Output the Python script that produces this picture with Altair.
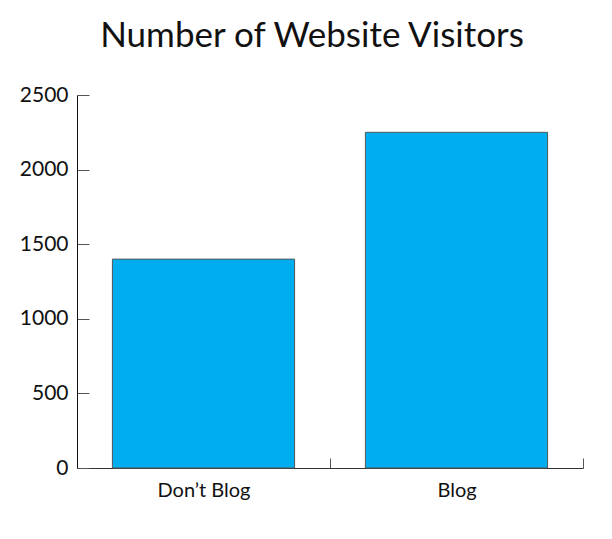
import altair as alt
import pandas as pd

categories = ["Don’t Blog", "Blog"]
visitors = [1400, 2250]
y_ticks = [0, 500, 1000, 1500, 2000, 2500]

df = pd.DataFrame({"category": categories, "visitors": visitors})

FONT = "Lato"

chart = alt.Chart(df).mark_bar(
    color="#00AEEF", stroke="#555555", strokeWidth=1
).encode(
    x=alt.X(
        "category:N",
        sort=categories,
        scale=alt.Scale(paddingInner=0.28, paddingOuter=0.14),
        axis=alt.Axis(
            title=None,
            orient="top",
            offset=-373,
            tickOffset=126.5,
            labelOffset=-126.5,
            tickSize=10,
            tickColor="#555555",
            tickWidth=1,
            domainColor="#333333",
            domainWidth=1,
            labelAngle=0,
            labelBaseline="top",
            labelPadding=-22,
            labelFont=FONT,
            labelFontSize=20,
            labelColor="#111111",
        ),
    ),
    y=alt.Y(
        "visitors:Q",
        scale=alt.Scale(domain=[0, 2500], nice=False),
        axis=alt.Axis(
            title=None,
            orient="right",
            offset=-506,
            values=y_ticks,
            format="d",
            grid=False,
            tickSize=12,
            tickColor="#555555",
            tickWidth=1,
            domainColor="#111111",
            domainWidth=1,
            labelAlign="right",
            labelBaseline="middle",
            labelPadding=-21,
            labelFont=FONT,
            labelFontSize=21,
            labelColor="#111111",
        ),
    ),
).properties(
    width=506,
    height=373,
    title=alt.TitleParams(
        "Number of Website Visitors",
        font=FONT,
        fontSize=35,
        fontWeight="normal",
        color="#111111",
        anchor="middle",
        dx=-18,
        offset=30,
    ),
    padding={"left": 69, "top": 87, "right": 21, "bottom": 63},
    autosize=alt.AutoSizeParams(type="none"),
).configure_view(stroke=None)

chart.save("out.html", embed_options={"renderer": "svg", "actions": False})
